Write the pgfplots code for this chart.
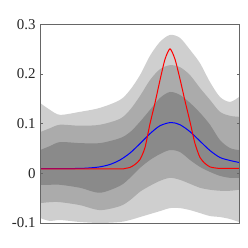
\documentclass[border=0pt]{standalone}
\usepackage{fontspec}
\setmainfont{Liberation Serif}
\usepackage{pgfplots}
\pgfplotsset{compat=1.18}
\usepgfplotslibrary{fillbetween}
\definecolor{bandA}{rgb}{0.81,0.81,0.81}
\definecolor{bandB}{rgb}{0.67,0.67,0.67}
\definecolor{bandC}{rgb}{0.54,0.54,0.54}
\begin{document}
\begin{tikzpicture}
\begin{axis}[
  name=ax,
  scale only axis,
  width=199bp, height=198.5bp,
  xmin=0, xmax=199, ymin=-0.1, ymax=0.3,
  xtick=\empty,
  ytick={-0.1,0,0.1,0.2,0.3},
  yticklabels={-0.1,0,0.1,0.2,0.3},
  ytick pos=both,
  tick align=inside,
  major tick length=2.5bp,
  axis line style={black!60, line width=0.6bp},
  tick style={black!60, line width=0.6bp},
  yticklabel style={font=\fontsize{15}{18}\selectfont, text=black!85, xshift=-1bp},
  axis on top,
]
\addplot[name path=U3, draw=none, smooth, tension=0.5] coordinates {
(0,0.142) (10,0.128) (20,0.118) (40,0.124) (60,0.132) (80,0.148) (90,0.168) (100,0.198) (110,0.237) (120,0.265) (130,0.279) (140,0.273) (150,0.249) (160,0.222) (170,0.184) (180,0.154) (190,0.144) (199,0.154)};
\addplot[name path=L3, draw=none, smooth, tension=0.5] coordinates {
(0,-0.090) (10,-0.096) (20,-0.094) (40,-0.098) (60,-0.100) (80,-0.098) (90,-0.094) (100,-0.088) (110,-0.082) (120,-0.076) (130,-0.070) (140,-0.070) (150,-0.074) (160,-0.080) (170,-0.086) (180,-0.088) (190,-0.092) (199,-0.098)};
\addplot[name path=U2, draw=none, smooth, tension=0.5] coordinates {
(0,0.083) (10,0.091) (20,0.098) (40,0.096) (60,0.098) (80,0.110) (90,0.128) (100,0.156) (110,0.188) (120,0.210) (130,0.218) (140,0.214) (150,0.198) (160,0.172) (170,0.148) (180,0.124) (190,0.116) (199,0.114)};
\addplot[name path=L2, draw=none, smooth, tension=0.5] coordinates {
(0,-0.060) (10,-0.058) (20,-0.058) (40,-0.064) (60,-0.074) (80,-0.066) (90,-0.054) (100,-0.037) (110,-0.025) (120,-0.015) (130,-0.009) (140,-0.013) (150,-0.021) (160,-0.029) (170,-0.033) (180,-0.035) (190,-0.035) (199,-0.033)};
\addplot[name path=U1, draw=none, smooth, tension=0.5] coordinates {
(0,0.047) (10,0.055) (20,0.063) (40,0.061) (60,0.061) (80,0.071) (90,0.083) (100,0.104) (110,0.128) (120,0.152) (130,0.164) (140,0.158) (150,0.142) (160,0.122) (170,0.098) (180,0.067) (190,0.051) (199,0.047)};
\addplot[name path=L1, draw=none, smooth, tension=0.5] coordinates {
(0,-0.023) (10,-0.023) (20,-0.023) (40,-0.029) (60,-0.039) (80,-0.025) (90,-0.009) (100,0.011) (110,0.027) (120,0.039) (130,0.047) (140,0.043) (150,0.027) (160,0.013) (170,0.003) (180,-0.005) (190,-0.009) (199,-0.009)};
\addplot[bandA, draw=none] fill between[of=U3 and L3];
\addplot[bandB, draw=none] fill between[of=U2 and L2];
\addplot[bandC, draw=none] fill between[of=U1 and L1];
% blue estimate
\addplot[blue, line width=1bp, no markers, smooth] coordinates {
(0,0.0095) (20,0.0095) (40,0.0100) (50,0.011) (60,0.0132) (70,0.018) (80,0.027) (90,0.041) (100,0.060) (110,0.080) (120,0.096) (131,0.1025) (140,0.098) (150,0.084) (160,0.065) (170,0.046) (180,0.032) (190,0.026) (199,0.022)
};
% red truth
\addplot[red, line width=1bp, no markers, smooth, tension=0.4] coordinates {
(0,0.009) (78,0.009) (85,0.010) (90,0.012) (95,0.018) (100,0.028) (105,0.052) (110,0.100) (115,0.142) (120,0.188) (125,0.230) (130,0.251) (135,0.230) (140,0.190) (145,0.146) (150,0.104) (155,0.060) (160,0.032) (165,0.020) (170,0.013) (175,0.011) (180,0.010) (199,0.010)
};
\end{axis}
\pgfresetboundingbox
\path[use as bounding box] (ax.south west) ++(-40bp,-25bp) rectangle ([shift={(9bp,24.5bp)}]ax.north east);
\end{tikzpicture}
\end{document}
